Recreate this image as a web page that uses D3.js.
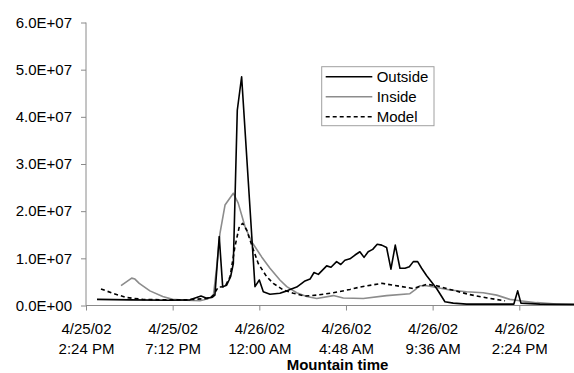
<html>
<body style="margin:0;background:#fff">
<div id="chart"></div>
</body>
</html>
<script src="https://d3js.org/d3.v7.min.js" type="text/javascript"></script>
<script>
// hours after 4/25/02 2:24 PM (Mountain time), values in millions
var outsideHours = [0.61, 2.44, 4.65, 5.76, 6.37, 6.65, 6.98, 7.14, 7.38, 7.57, 7.79, 8.01, 8.16, 8.38, 8.62,
	9.36, 9.60, 9.82, 10.19, 10.74, 11.12, 11.30, 11.67, 11.95, 12.13, 12.41, 12.63, 12.87, 13.33, 13.57,
	13.88, 14.11, 14.34, 14.62, 14.90, 15.17, 15.40, 15.63, 15.88, 16.13, 16.38, 16.65, 16.89, 17.13, 17.39,
	17.67, 17.91, 18.13, 18.37, 18.59, 18.87, 19.42, 19.70, 19.88, 20.34, 21.08, 22.37, 23.70, 23.91, 24.09,
	25.14, 27.03];
var outsideValues = [1.3, 1.2, 1.1, 1.2, 2.0, 1.6, 1.7, 2.2, 14.6, 4.0, 4.3, 6.1, 8.9, 41.4, 48.5,
	4.0, 5.4, 2.9, 2.4, 2.6, 3.1, 3.4, 3.9, 4.7, 5.2, 5.6, 7.0, 6.6, 8.4, 8.1,
	9.3, 8.7, 9.6, 9.9, 10.7, 11.4, 10.2, 11.4, 11.9, 13.0, 12.8, 12.3, 7.7, 12.8, 7.9,
	7.9, 8.2, 9.3, 9.3, 7.9, 6.3, 3.6, 1.9, 0.8, 0.5, 0.3, 0.3, 0.3, 3.1, 0.5,
	0.3, 0.2];

var insideHours = [1.94, 2.53, 2.71, 2.95, 3.54, 4.25, 4.80, 5.54, 6.31, 6.54, 7.05, 7.24, 7.42, 7.70, 8.16,
	8.43, 8.81, 9.18, 9.73, 10.19, 10.74, 11.12, 11.67, 12.22, 12.78, 13.70, 14.25, 15.36, 16.65, 17.94,
	18.22, 18.50, 18.87, 19.42, 20.16, 21.08, 22.00, 22.75, 23.48, 24.04, 24.96, 26.07, 27.03];
var insideValues = [4.2, 5.8, 5.6, 4.7, 3.1, 1.9, 1.3, 1.1, 1.0, 1.2, 1.9, 8.2, 15.3, 21.3, 23.8,
	21.7, 16.7, 13.5, 10.3, 7.9, 5.4, 4.0, 2.7, 1.9, 1.5, 2.1, 1.6, 1.5, 2.1, 2.5,
	3.3, 4.2, 4.2, 3.8, 3.3, 2.9, 2.7, 2.2, 1.3, 1.0, 0.6, 0.3, 0.3];

var modelHours = [0.83, 1.48, 2.22, 3.14, 4.25, 5.54, 6.83, 7.05, 7.33, 7.70, 7.98, 8.25, 8.49, 8.68, 8.90,
	9.18, 9.54, 10.01, 10.37, 10.93, 11.48, 12.13, 12.78, 13.70, 14.62, 15.17, 16.38, 17.02, 18.13, 18.87,
	19.42, 20.16, 21.27, 22.37, 23.21];
var modelValues = [3.5, 2.6, 1.7, 1.3, 1.2, 1.2, 1.5, 2.2, 3.9, 4.0, 6.1, 12.5, 16.7, 17.4, 16.0,
	12.8, 8.9, 6.1, 4.7, 3.3, 2.6, 2.0, 2.2, 2.7, 3.4, 3.9, 4.7, 4.3, 3.6, 4.5,
	4.2, 3.4, 2.3, 1.5, 1.0];

var yTicks = [0, 10, 20, 30, 40, 50, 60];
var xTickHours = [0, 4.8, 9.6, 14.4, 19.2, 24];
var seriesNames = ["Outside", "Inside", "Model"];

var startTime = new Date(2002, 3, 25, 14, 24);
function toDate(h) { return new Date(startTime.getTime() + h * 3600 * 1000); }

var width = 574, height = 373;
var plotLeft = 86, plotRight = 574, plotTop = 22.5, plotBottom = 305.5;
var fontFam = "Arial, 'Liberation Sans', sans-serif";

var svg = d3.select("#chart")
	.append("svg")
	.attr("width", width)
	.attr("height", height)
	.style("display", "block");

var x = d3.scaleTime()
	.domain([toDate(0), toDate(27.03)])
	.range([plotLeft, plotRight]);
var y = d3.scaleLinear()
	.domain([0, 60])
	.range([plotBottom, plotTop]);

function sciLabel(v) {
	if (v == 0) return "0.0E+00";
	return (v / 10).toFixed(1) + "E+07";
}

// y axis
var yAxis = svg.append("g")
	.attr("transform", "translate(" + plotLeft + ",0)")
	.call(d3.axisLeft(y).tickValues(yTicks).tickSize(5).tickPadding(9).tickFormat(sciLabel));
yAxis.select(".domain").attr("stroke", "#8a8a8a").attr("d", "M0," + plotTop + "V" + plotBottom);
yAxis.selectAll(".tick line").attr("stroke", "#8a8a8a");
yAxis.selectAll(".tick text")
	.attr("fill", "#000")
	.style("font-family", fontFam)
	.style("font-size", "15px");

// x axis
var xAxis = svg.append("g")
	.attr("transform", "translate(0," + plotBottom + ")")
	.call(d3.axisBottom(x).tickValues(xTickHours.map(toDate)).tickSize(5).tickFormat(""));
xAxis.select(".domain").attr("stroke", "#8a8a8a").attr("d", "M" + plotLeft + ",0H" + plotRight);
xAxis.selectAll(".tick line").attr("stroke", "#8a8a8a");

var fmtDay = d3.timeFormat("%-m/%d/%y");
var fmtTime = d3.timeFormat("%-I:%M %p");
xAxis.selectAll(".tick").each(function(d) {
	var t = d3.select(this).append("text")
		.attr("text-anchor", "middle")
		.attr("fill", "#000")
		.style("font-family", fontFam)
		.style("font-size", "15px");
	t.append("tspan").attr("x", 0).attr("y", 28.5).text(fmtDay(d));
	t.append("tspan").attr("x", 0).attr("y", 48.5).text(fmtTime(d));
});

svg.append("text")
	.attr("x", 337.5)
	.attr("y", 370)
	.attr("text-anchor", "middle")
	.style("font-family", fontFam)
	.style("font-size", "15px")
	.style("font-weight", "bold")
	.text("Mountain time");

// lines
function pairs(hs, vs) {
	return hs.map(function(h, i) { return { t: toDate(h), v: vs[i] }; });
}
var line = d3.line()
	.x(function(d) { return x(d.t); })
	.y(function(d) { return y(d.v); });

var series = [
	{ data: pairs(insideHours, insideValues), color: "#8c8c8c", dash: null, w: 1.6 },
	{ data: pairs(modelHours, modelValues), color: "#000", dash: "4,3", w: 1.6 },
	{ data: pairs(outsideHours, outsideValues), color: "#000", dash: null, w: 1.6 }
];
series.forEach(function(s) {
	svg.append("path")
		.attr("d", line(s.data))
		.attr("fill", "none")
		.attr("stroke", s.color)
		.attr("stroke-width", s.w)
		.attr("stroke-dasharray", s.dash)
		.attr("stroke-linejoin", "round");
});

// legend
var legend = svg.append("g");
legend.append("rect")
	.attr("x", 321.7).attr("y", 66.7)
	.attr("width", 112.3).attr("height", 59)
	.attr("fill", "#fff")
	.attr("stroke", "#a0a0a0");
var legendStyle = [
	{ color: "#000", dash: null },
	{ color: "#8c8c8c", dash: null },
	{ color: "#000", dash: "4,3" }
];
seriesNames.forEach(function(name, i) {
	var ly = 76.7 + i * 20;
	legend.append("line")
		.attr("x1", 325.7).attr("x2", 372.3)
		.attr("y1", ly).attr("y2", ly)
		.attr("stroke", legendStyle[i].color)
		.attr("stroke-width", 1.6)
		.attr("stroke-dasharray", legendStyle[i].dash);
	legend.append("text")
		.attr("x", 376.7)
		.attr("y", ly + 5.5)
		.style("font-family", fontFam)
		.style("font-size", "15px")
		.text(name);
});
</script>
